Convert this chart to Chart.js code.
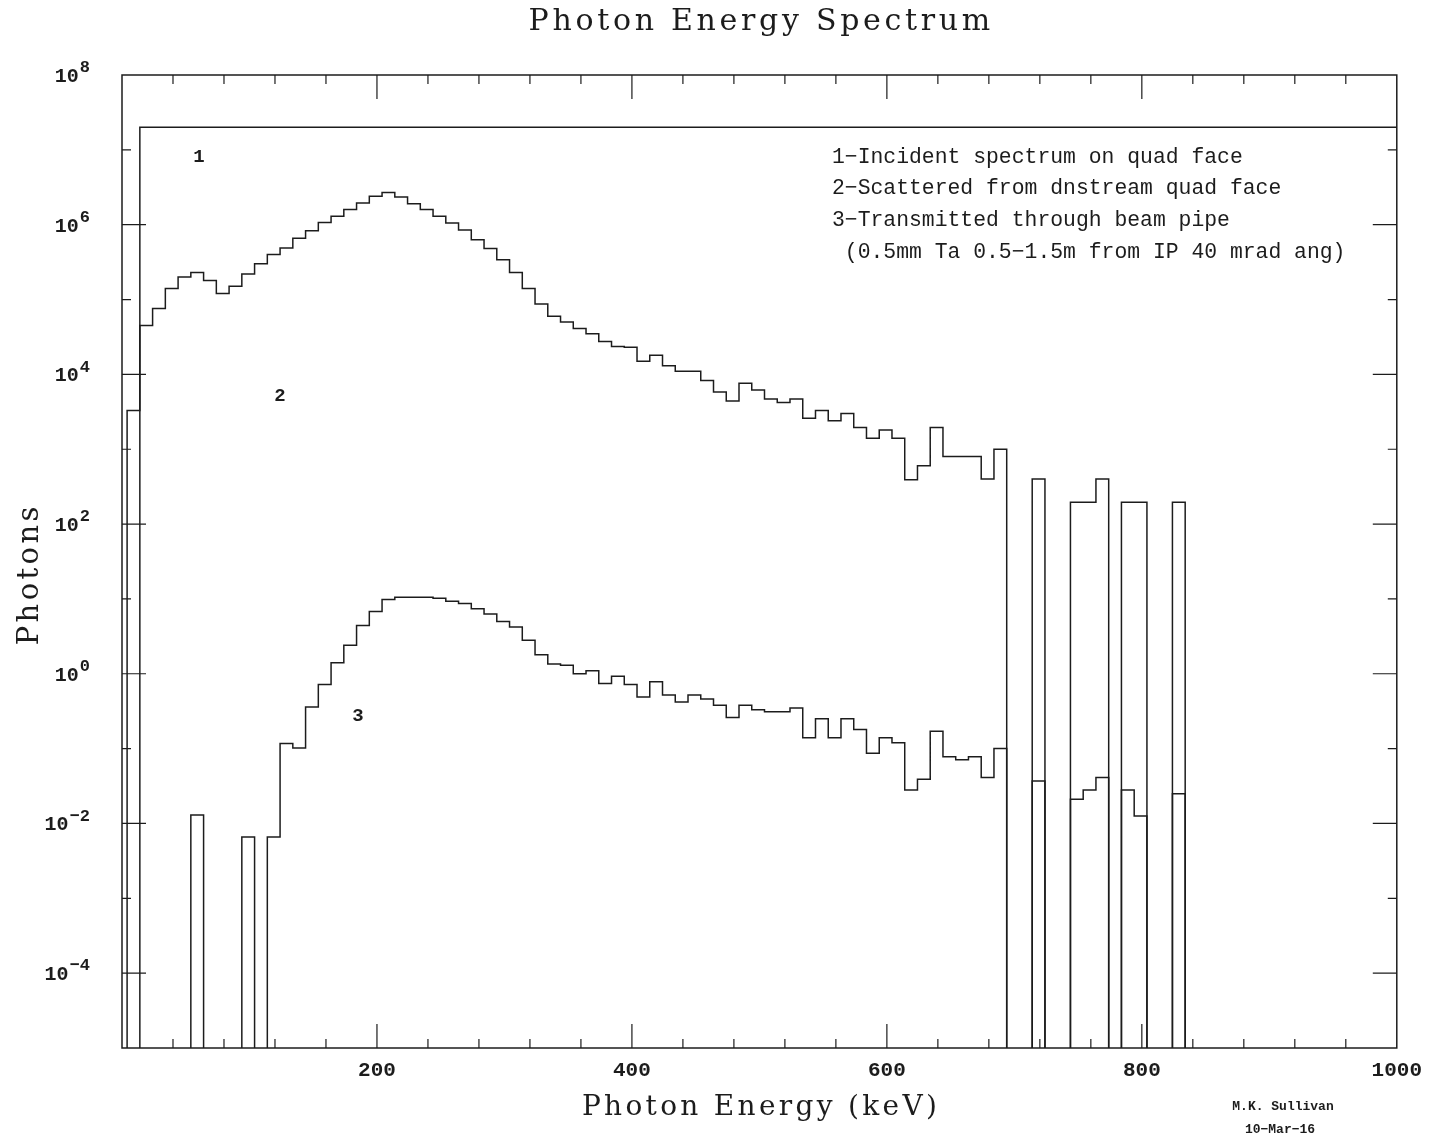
<!DOCTYPE html>
<html>
<head>
<meta charset="utf-8">
<title>Photon Energy Spectrum</title>
<script src="https://cdn.jsdelivr.net/npm/chart.js@4.4.1/dist/chart.umd.min.js"></script>
<style>
  html, body { margin: 0; padding: 0; background: #fff; }
  #wrap { width: 1432px; height: 1136px; position: relative; }
</style>
</head>
<body>
<div id="wrap"><canvas id="spectrum"></canvas></div>
<script>
// histogram binning (keV): 10 keV bins, first edge at 4 keV
const binStart = 4;
const binWidth = 10;

// 1 - incident spectrum on quad face (wide bins)
const incidentEdges = [4, 14, 1004];
const incident = [0, 2.0e7];

// 2 - scattered from dnstream quad face (photons per bin)
const scattered = [
    3.3e3, 4.5e4, 7.6e4, 1.4e5, 2.0e5, 2.3e5, 1.8e5, 1.2e5, 1.5e5, 2.2e5,
    3.0e5, 4.0e5, 4.9e5, 6.6e5, 8.3e5, 1.07e6, 1.3e6, 1.6e6, 1.95e6, 2.4e6,
    2.7e6, 2.35e6, 1.9e6, 1.6e6, 1.3e6, 1.05e6, 8.5e5, 6.3e5, 4.8e5, 3.4e5,
    2.3e5, 1.4e5, 8.7e4, 6.0e4, 5.0e4, 4.1e4, 3.5e4, 2.75e4, 2.35e4, 2.3e4,
    1.5e4, 1.8e4, 1.3e4, 1.1e4, 1.1e4, 8.3e3, 5.8e3, 4.4e3, 7.6e3, 6.2e3,
    4.7e3, 4.2e3, 4.7e3, 2.6e3, 3.3e3, 2.4e3, 3.0e3, 1.95e3, 1.4e3, 1.8e3,
    1.4e3, 390, 600, 1.95e3, 800, 800, 800, 400, 1.0e3, 0,
    0, 400, 0, 0, 195, 195, 400, 0, 195, 195,
    0, 0, 195, 0
];

// 3 - transmitted through beam pipe
const transmitted = [
    0, 0, 0, 0, 0, 0.013, 0, 0, 0, 0.0066,
    0, 0.0066, 0.117, 0.102, 0.36, 0.72, 1.4, 2.4, 4.4, 6.8,
    9.8, 10.5, 10.5, 10.5, 10.2, 9.3, 8.7, 7.4, 6.3, 5.0,
    4.2, 2.8, 1.8, 1.35, 1.3, 1.0, 1.1, 0.74, 0.93, 0.72,
    0.49, 0.78, 0.52, 0.42, 0.52, 0.46, 0.38, 0.26, 0.38, 0.33,
    0.31, 0.31, 0.35, 0.14, 0.25, 0.14, 0.25, 0.18, 0.087, 0.14,
    0.12, 0.028, 0.039, 0.17, 0.078, 0.071, 0.078, 0.041, 0.10, 0,
    0, 0.037, 0, 0, 0.021, 0.028, 0.041, 0, 0.028, 0.0126,
    0, 0, 0.025, 0
];

const xLabels = [200, 400, 600, 800, 1000];
const yLabelPowers = [-4, -2, 0, 2, 4, 6, 8];

const legendLines = [
    '1\u2212Incident spectrum on quad face',
    '2\u2212Scattered from dnstream quad face',
    '3\u2212Transmitted through beam pipe',
    ' (0.5mm Ta 0.5\u22121.5m from IP 40 mrad ang)'
];

const FLOOR = 1e-7; // empty bins drop below the axis
const INK = '#1c1c1c';

// turn bin contents into step points: (edge, value) ... (lastEdge, floor)
function histPoints(edges, values) {
    const pts = [{ x: edges[0], y: FLOOR }];
    values.forEach((v, i) => pts.push({ x: edges[i], y: v > 0 ? v : FLOOR }));
    pts.push({ x: edges[values.length], y: FLOOR });
    return pts;
}

function uniformEdges(n) {
    const e = [];
    for (let i = 0; i <= n; i++) e.push(binStart + i * binWidth);
    return e;
}

// centred text with extra letter spacing
function spacedText(ctx, text, x, y, spacing) {
    ctx.letterSpacing = spacing + 'px';
    ctx.textAlign = 'center';
    ctx.textBaseline = 'middle';
    ctx.fillText(text, x + spacing / 2, y);
    ctx.letterSpacing = '0px';
}

// frame, inward tick marks, y labels with exponents, text notes
const decorations = {
    id: 'decorations',
    afterDatasetsDraw(chart) {
        const { ctx, chartArea: a, scales: { x, y } } = chart;
        ctx.save();
        ctx.strokeStyle = INK;
        ctx.lineWidth = 1.5;
        ctx.strokeRect(a.left, a.top, a.right - a.left, a.bottom - a.top);

        ctx.lineWidth = 1.2;
        ctx.beginPath();
        for (let v = 40; v < 1000; v += 40) {
            const px = x.getPixelForValue(v);
            const len = v % 200 === 0 ? 24 : 9;
            ctx.moveTo(px, a.bottom); ctx.lineTo(px, a.bottom - len);
            ctx.moveTo(px, a.top); ctx.lineTo(px, a.top + len);
        }
        for (let p = -4; p <= 7; p++) {
            const py = y.getPixelForValue(Math.pow(10, p));
            const len = p % 2 === 0 ? 24 : 9;
            ctx.moveTo(a.left, py); ctx.lineTo(a.left + len, py);
            ctx.moveTo(a.right, py); ctx.lineTo(a.right - len, py);
        }
        ctx.stroke();
        ctx.restore();
    },
    afterDraw(chart) {
        const { ctx, chartArea: a, scales: { y } } = chart;
        ctx.save();
        ctx.fillStyle = INK;

        // titles
        ctx.font = '30px "DejaVu Serif"';
        spacedText(ctx, 'Photon Energy Spectrum', (a.left + a.right) / 2, 22, 3.7);
        ctx.font = '28px "DejaVu Serif"';
        spacedText(ctx, 'Photon Energy (keV)', (a.left + a.right) / 2, 1108, 3.3);
        ctx.save();
        ctx.translate(30, 576);
        ctx.rotate(-Math.PI / 2);
        ctx.font = '29px "DejaVu Serif"';
        spacedText(ctx, 'Photons', 0, 0, 3.4);
        ctx.restore();

        // y tick labels: 10 with raised exponent
        ctx.textBaseline = 'middle';
        ctx.textAlign = 'right';
        yLabelPowers.forEach(p => {
            const py = y.getPixelForValue(Math.pow(10, p));
            const exp = p < 0 ? '\u2212' + Math.abs(p) : String(p);
            ctx.font = 'bold 17px "Liberation Mono"';
            const expW = ctx.measureText(exp).width;
            ctx.fillText(exp, 90, py - 7);
            ctx.font = 'bold 20px "Liberation Mono"';
            ctx.fillText('10', 90 - expW - 1, py + 2);
        });

        // legend block
        ctx.font = '21.4px "Liberation Mono"';
        ctx.textAlign = 'left';
        legendLines.forEach((line, i) => ctx.fillText(line, 832, 157 + i * 31.7));

        // curve labels
        ctx.font = 'bold 19px "Liberation Mono"';
        ctx.textAlign = 'center';
        ctx.fillText('1', 199, 157);
        ctx.fillText('2', 280, 396);
        ctx.fillText('3', 358, 716);

        // credit
        ctx.font = 'bold 13px "Liberation Mono"';
        ctx.fillText('M.K. Sullivan', 1283, 1107);
        ctx.fillText('10\u2212Mar\u221216', 1280, 1130);
        ctx.restore();
    }
};

const edges = uniformEdges(scattered.length);
const lineStyle = {
    borderColor: INK,
    borderWidth: 1.5,
    pointRadius: 0,
    stepped: 'before',
    fill: false
};

new Chart(document.getElementById('spectrum'), {
    type: 'line',
    data: {
        datasets: [
            Object.assign({ label: '1', data: histPoints(incidentEdges, incident) }, lineStyle),
            Object.assign({ label: '2', data: histPoints(edges, scattered) }, lineStyle),
            Object.assign({ label: '3', data: histPoints(edges, transmitted) }, lineStyle)
        ]
    },
    options: {
        responsive: true,
        maintainAspectRatio: false,
        animation: false,
        events: [],
        layout: { padding: { left: 0, right: 34, top: 75, bottom: 0 } },
        plugins: {
            legend: { display: false },
            tooltip: { enabled: false },
            title: { display: false }
        },
        scales: {
            x: {
                type: 'linear',
                min: 0,
                max: 1000,
                grid: { display: false, drawTicks: false },
                border: { display: false },
                ticks: {
                    stepSize: 40,
                    autoSkip: false,
                    maxRotation: 0,
                    padding: 10,
                    color: INK,
                    font: { family: '"Liberation Mono"', size: 21, weight: 'bold' },
                    callback: v => xLabels.includes(v) ? String(v) : ''
                },
                afterFit: s => { s.height = 88; }
            },
            y: {
                type: 'logarithmic',
                min: 1e-5,
                max: 1e8,
                grid: { display: false, drawTicks: false },
                border: { display: false },
                ticks: { display: false },
                afterFit: s => { s.width = 122; }
            }
        }
    },
    plugins: [decorations]
});
</script>
</body>
</html>
